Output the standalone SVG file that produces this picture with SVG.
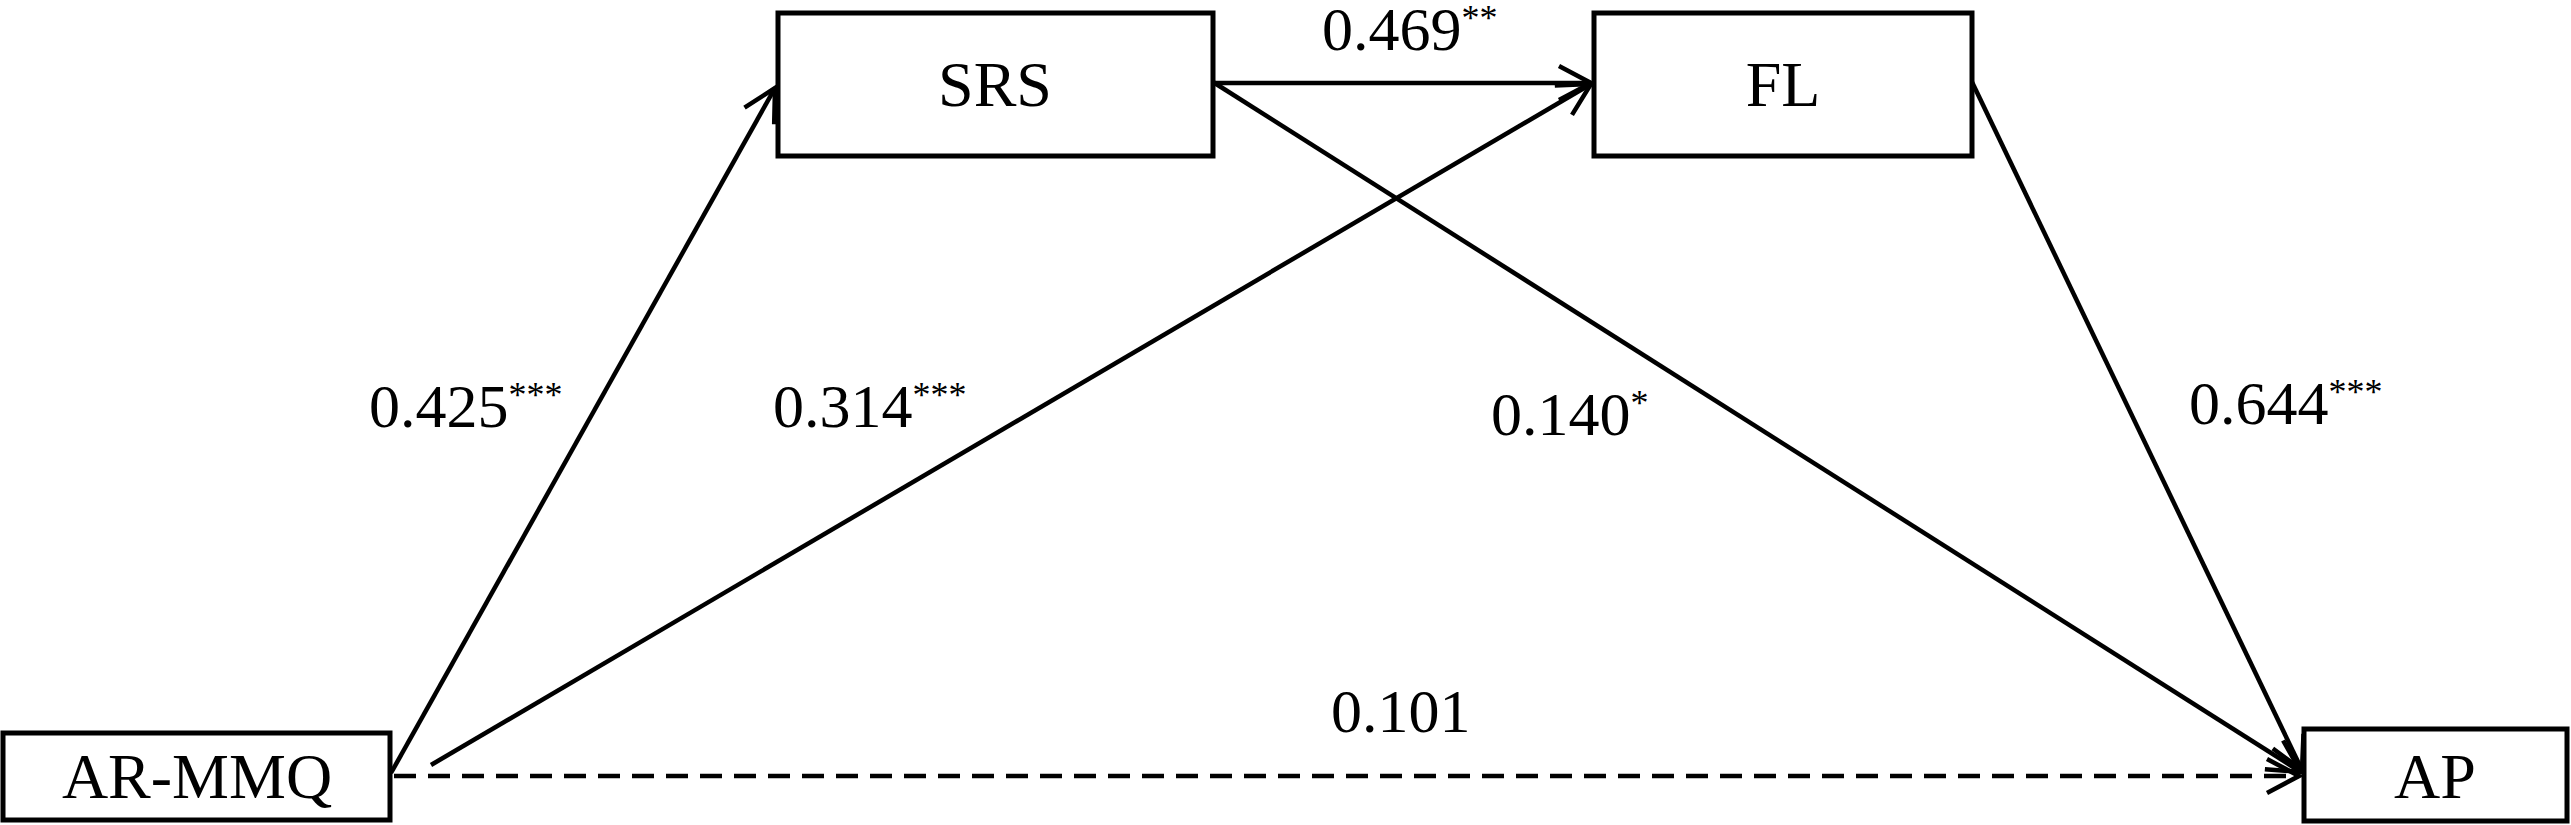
<svg xmlns="http://www.w3.org/2000/svg" width="2571" height="825" viewBox="0 0 2571 825">
<style>
.box{fill:#fff;stroke:#000;stroke-width:5}
.lbl{font-family:"Liberation Serif","Times New Roman",serif;font-size:64px;fill:#000;text-anchor:middle}
.coef{font-family:"Liberation Serif","Times New Roman",serif;font-size:62px;fill:#000}
.sup{font-size:36px}
.ln{stroke:#000;stroke-width:4.5;fill:none;marker-end:url(#ah)}
</style>
<defs>
<marker id="ah" markerUnits="userSpaceOnUse" markerWidth="40" markerHeight="40" viewBox="-36 -20 40 40" refX="0" refY="0" orient="auto">
<path d="M-32,-17 L0,0 L-32,17" fill="none" stroke="#000" stroke-width="4.5"/>
</marker>
</defs>
<g id="connectors">
<line class="ln" x1="391" y1="773" x2="775" y2="88"/>
<line class="ln" x1="431" y1="765" x2="1591" y2="84"/>
<line class="ln" x1="1213" y1="83" x2="1591" y2="83"/>
<line class="ln" x1="1213" y1="82" x2="2301" y2="772"/>
<line class="ln" x1="1972" y1="82" x2="2302" y2="770"/>
<line class="ln" x1="394" y1="776" x2="2299" y2="776" stroke-dasharray="22,12"/>
</g>
<g id="SRS"><rect class="box" x="778" y="13" width="435" height="143"/><text class="lbl" x="995" y="106">SRS</text></g>
<g id="FL"><rect class="box" x="1594" y="13" width="378" height="143"/><text class="lbl" x="1783" y="106">FL</text></g>
<g id="AR-MMQ"><rect class="box" x="3" y="733" width="387" height="87"/><text class="lbl" x="197" y="798">AR-MMQ</text></g>
<g id="AP"><rect class="box" x="2304" y="729" width="263" height="92"/><text class="lbl" x="2435" y="798">AP</text></g>
<g id="labels">
<text class="coef" x="369" y="427">0.425<tspan class="sup" dy="-20">***</tspan></text>
<text class="coef" x="773" y="427">0.314<tspan class="sup" dy="-20">***</tspan></text>
<text class="coef" x="1322" y="50">0.469<tspan class="sup" dy="-20">**</tspan></text>
<text class="coef" x="1491" y="435">0.140<tspan class="sup" dy="-20">*</tspan></text>
<text class="coef" x="2189" y="424">0.644<tspan class="sup" dy="-20">***</tspan></text>
<text class="coef" x="1331" y="732">0.101</text>
</g>
</svg>
